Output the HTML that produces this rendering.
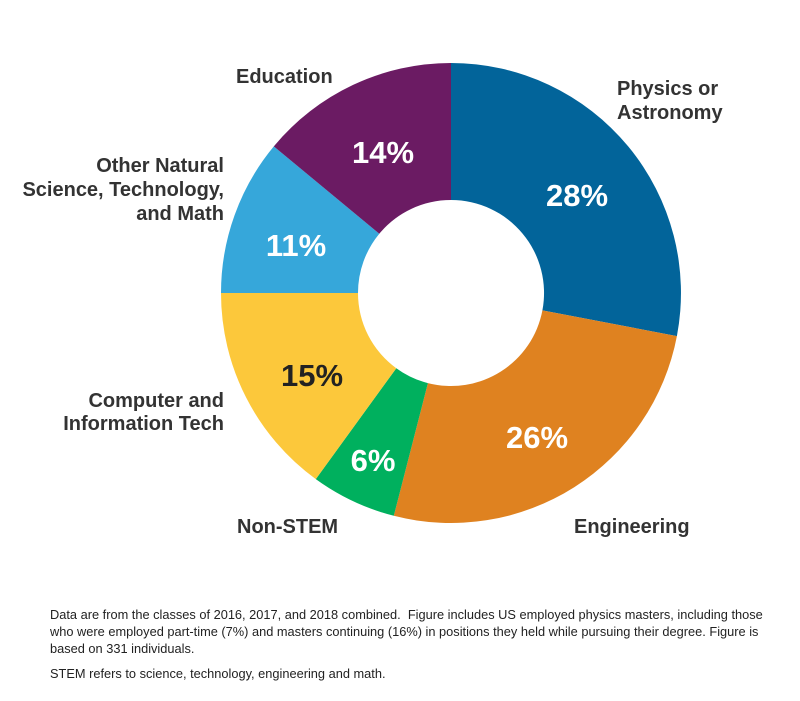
<!DOCTYPE html>
<html><head><meta charset="utf-8"><style>
body{margin:0;background:#fff;width:800px;height:701px;overflow:hidden;font-family:"Liberation Sans",sans-serif}
.note{position:absolute;left:50px;font-size:12.8px;color:#222;line-height:17px;white-space:nowrap}
</style></head><body>
<svg width="800" height="701" style="position:absolute;left:0;top:0">
<g>
<path d="M451,63 A230,230 0 0 1 676.9,336.1 L542.4,310.4 A93,93 0 0 0 451,200 Z" fill="#02649a"/>
<path d="M676.9,336.1 A230,230 0 0 1 393.8,515.8 L427.9,383.1 A93,93 0 0 0 542.4,310.4 Z" fill="#df8220"/>
<path d="M393.8,515.8 A230,230 0 0 1 315.8,479.1 L396.3,368.2 A93,93 0 0 0 427.9,383.1 Z" fill="#00b05e"/>
<path d="M315.8,479.1 A230,230 0 0 1 221,293 L358,293 A93,93 0 0 0 396.3,368.2 Z" fill="#fcc83b"/>
<path d="M221,293 A230,230 0 0 1 273.8,146.4 L379.3,233.7 A93,93 0 0 0 358,293 Z" fill="#36a7da"/>
<path d="M273.8,146.4 A230,230 0 0 1 451,63 L451,200 A93,93 0 0 0 379.3,233.7 Z" fill="#6b1b63"/>
</g>
<g font-family="Liberation Sans,sans-serif" font-weight="bold" font-size="31" text-anchor="middle" fill="#fff">
<text x="577" y="206">28%</text>
<text x="537" y="448">26%</text>
<text x="373" y="471">6%</text>
<text x="312" y="386" fill="#222">15%</text>
<text x="296" y="256">11%</text>
<text x="383" y="163">14%</text>
</g>
<g font-family="Liberation Sans,sans-serif" font-weight="bold" font-size="20" fill="#333">
<text x="617" y="95">Physics or</text>
<text x="617" y="119">Astronomy</text>
<text x="574" y="533">Engineering</text>
<text x="237" y="533">Non-STEM</text>
<text x="224" y="407" text-anchor="end">Computer and</text>
<text x="224" y="430" text-anchor="end">Information Tech</text>
<text x="224" y="172" text-anchor="end">Other Natural</text>
<text x="224" y="196" text-anchor="end">Science, Technology,</text>
<text x="224" y="220" text-anchor="end">and Math</text>
<text x="236" y="83">Education</text>
</g>
</svg>
<div class="note" style="top:606px">Data are from the classes of 2016, 2017, and 2018 combined.&nbsp; Figure includes US employed physics masters, including those<br>who were employed part-time (7%) and masters continuing (16%) in positions they held while pursuing their degree. Figure is<br>based on 331 individuals.</div>
<div class="note" style="top:665px">STEM refers to science, technology, engineering and math.</div>
</body></html>
